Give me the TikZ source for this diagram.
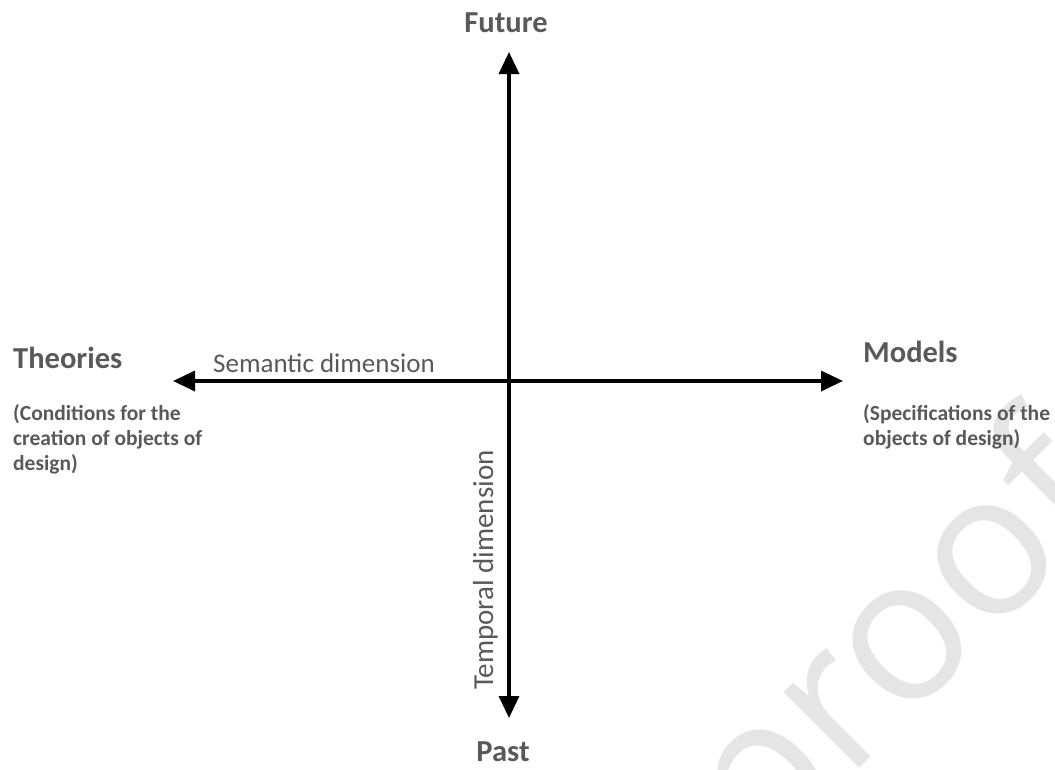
\documentclass[tikz,border=0pt]{standalone}
\usepackage{fontspec}
\setmainfont{Carlito}
\newfontfamily\wmfont{Open Sans}
\usetikzlibrary{arrows.meta}
\definecolor{labelgray}{HTML}{595959}
\definecolor{wmgray}{HTML}{E5E5E5}
\tikzset{
  axis/.style={line width=3.5pt, black, {Triangle[length=22pt,width=20pt]}-{Triangle[length=22pt,width=20pt]}},
  poletext/.style={inner sep=0pt, text=labelgray, font=\fontsize{30.5}{36}\selectfont\bfseries},
  subtext/.style={inner sep=0pt, text=labelgray, align=left, font=\fontsize{21.5}{25}\selectfont\bfseries},
  dimtext/.style={inner sep=0pt, text=labelgray, font=\fontsize{27}{32}\selectfont},
  watermark/.style={inner sep=0pt, text=wmgray, font=\fontsize{200}{200}\selectfont\wmfont}
}
\begin{document}
\begin{tikzpicture}[x=1pt,y=-1pt]
\useasboundingbox (0,0) rectangle (1055,769);
\begin{scope}
\clip (0,0) rectangle (1055,769);
\node[watermark, rotate=45, anchor=base] (wm) at (941,687) {proof};
\end{scope}
% axis end points
\coordinate (top) at (509,52);
\coordinate (bottom) at (509,718);
\coordinate (left) at (173,381);
\coordinate (right) at (843,381);
\draw[axis] (left) -- (right);
\draw[axis] (bottom) -- (top);
% labels
\node[poletext, anchor=base] (future) at (506,32) {Future};
\node[poletext, anchor=base] (past) at (503,761) {Past};
\node[poletext, anchor=base west] (theories) at (13,368) {Theories};
\node[poletext, anchor=base west] (models) at (863,362) {Models};
\node[subtext, anchor=base west] (theoriessub) at (13,470) {(Conditions for the\\creation of objects of\\design)};
\node[subtext, anchor=base west] (modelssub) at (863,445) {(Specifications of the\\objects of design)};
\node[dimtext, anchor=base west] (semantic) at (213,372) {Semantic dimension};
\node[dimtext, font=\fontsize{29}{34}\selectfont, anchor=base, rotate=90] (temporal) at (493,570) {Temporal dimension};
\end{tikzpicture}
\end{document}
